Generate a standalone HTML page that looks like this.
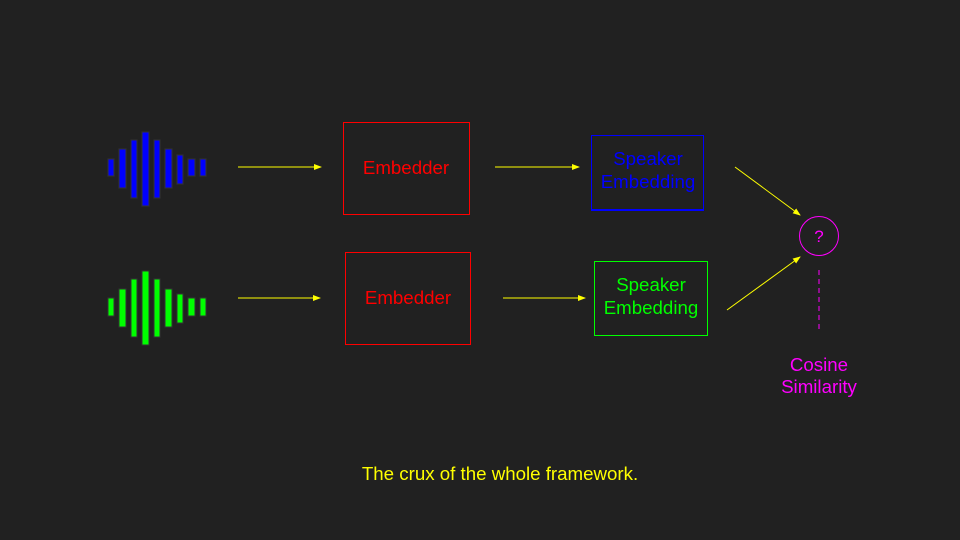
<!DOCTYPE html>
<html><head><style>
body{margin:0;background:#212121;}
svg{display:block;font-family:"Liberation Sans",sans-serif;}
</style></head><body>
<svg width="960" height="540" viewBox="0 0 960 540">
<defs><marker id="a" markerWidth="8" markerHeight="8" refX="7" refY="4" orient="auto" markerUnits="userSpaceOnUse"><path d="M0,1 L8,4 L0,7 Z" fill="#ffff00"/></marker></defs>
<rect width="960" height="540" fill="#212121"/>
<g fill="#0000ff" stroke="#333" stroke-width="1">
<rect x="108" y="159" width="6" height="17"/><rect x="119" y="149" width="7" height="39"/><rect x="131" y="140" width="6" height="58"/><rect x="142" y="132" width="7" height="74"/><rect x="154" y="140" width="6" height="58"/><rect x="165" y="149" width="7" height="39"/><rect x="177" y="155" width="6" height="29"/><rect x="188" y="159" width="7" height="17"/><rect x="200" y="159" width="6" height="17"/>
</g>
<g fill="#00ff00" stroke="#333" stroke-width="1">
<rect x="108" y="298" width="6" height="18"/><rect x="119" y="289" width="7" height="38"/><rect x="131" y="279" width="6" height="58"/><rect x="142" y="271" width="7" height="74"/><rect x="154" y="279" width="6" height="58"/><rect x="165" y="289" width="7" height="38"/><rect x="177" y="294" width="6" height="29"/><rect x="188" y="298" width="7" height="18"/><rect x="200" y="298" width="6" height="18"/>
</g>
<g stroke="#ffff00" stroke-width="1" marker-end="url(#a)">
<line x1="238" y1="167" x2="321" y2="167"/><line x1="495" y1="167" x2="579" y2="167"/>
<line x1="238" y1="298" x2="320" y2="298"/><line x1="503" y1="298" x2="585" y2="298"/>
<line x1="735" y1="167" x2="800" y2="215"/><line x1="727" y1="310" x2="800" y2="257"/>
</g>
<rect x="343.5" y="122.5" width="126" height="92" fill="none" stroke="#ff0000"/>
<rect x="345.5" y="252.5" width="125" height="92" fill="none" stroke="#ff0000"/>
<text x="406" y="174" fill="#ff0000" font-size="18.7" text-anchor="middle">Embedder</text>
<text x="408" y="304" fill="#ff0000" font-size="18.7" text-anchor="middle">Embedder</text>
<rect x="591.5" y="135.5" width="112" height="75" fill="none" stroke="#0000ff"/>
<line x1="591" y1="210" x2="704" y2="210" stroke="#0000ff" stroke-width="2"/>
<text fill="#0000ff" font-size="18.7" text-anchor="middle"><tspan x="648" y="165">Speaker</tspan><tspan x="648" y="188">Embedding</tspan></text>
<rect x="594.5" y="261.5" width="113" height="74" fill="none" stroke="#00ff00"/>
<text fill="#00ff00" font-size="18.7" text-anchor="middle"><tspan x="651" y="291">Speaker</tspan><tspan x="651" y="314">Embedding</tspan></text>
<circle cx="819" cy="236" r="19.5" fill="none" stroke="#ff00ff"/>
<text x="819" y="242" fill="#ff00ff" font-size="17" text-anchor="middle">?</text>
<line x1="819" y1="270" x2="819" y2="333" stroke="#ff00ff" stroke-dasharray="5,4"/>
<text fill="#ff00ff" font-size="18.7" text-anchor="middle"><tspan x="819" y="371">Cosine</tspan><tspan x="819" y="393">Similarity</tspan></text>
<text x="500" y="480" fill="#ffff00" font-size="18.7" text-anchor="middle">The crux of the whole framework.</text>
</svg>
</body></html>
